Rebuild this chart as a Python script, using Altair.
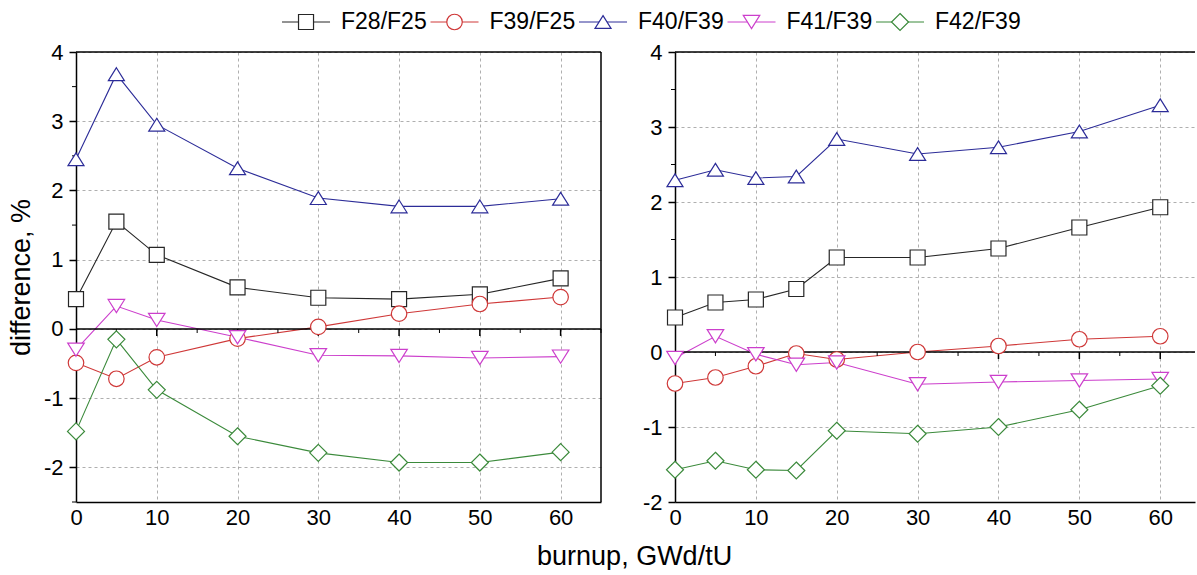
import altair as alt
import pandas as pd

FONT = "Liberation Sans"

# ---------------- data ----------------
series = ["F28/F25", "F39/F25", "F40/F39", "F41/F39", "F42/F39"]
colors = ["#262626", "#cf3838", "#2c2c98", "#cc3fcc", "#3b8a3b"]
shapes = ["square", "circle",
          "M0,-0.8L1,0.8L-1,0.8Z",
          "M0,0.8L1,-0.8L-1,-0.8Z",
          "M0,-1L1,0L0,1L-1,0Z"]
sizes = [225, 289, 361, 361, 361]

left_x = [0, 5, 10, 20, 30, 40, 50, 60]
left_f28_f25 = [0.43, 1.55, 1.07, 0.60, 0.45, 0.43, 0.50, 0.73]
left_f39_f25 = [-0.49, -0.72, -0.41, -0.14, 0.03, 0.22, 0.36, 0.46]
left_f40_f39 = [2.45, 3.68, 2.95, 2.32, 1.89, 1.77, 1.77, 1.88]
left_f41_f39 = [-0.30, 0.33, 0.13, -0.12, -0.38, -0.39, -0.42, -0.40]
left_f42_f39 = [-1.48, -0.15, -0.88, -1.55, -1.79, -1.93, -1.93, -1.78]

right_x = [0, 5, 10, 15, 20, 30, 40, 50, 60]
right_f28_f25 = [0.46, 0.66, 0.70, 0.84, 1.26, 1.26, 1.38, 1.66, 1.93]
right_f39_f25 = [-0.42, -0.34, -0.19, -0.02, -0.10, 0.00, 0.08, 0.17, 0.21]
right_f40_f39 = [2.29, 2.43, 2.32, 2.34, 2.84, 2.64, 2.73, 2.94, 3.29]
right_f41_f39 = [-0.08, 0.21, -0.03, -0.17, -0.14, -0.43, -0.40, -0.38, -0.36]
right_f42_f39 = [-1.57, -1.45, -1.57, -1.58, -1.05, -1.09, -1.00, -0.77, -0.45]

x_tick_values = [0, 10, 20, 30, 40, 50, 60]


def long_df(xs, cols):
    rows = []
    for s, vals in zip(series, cols):
        for x, v in zip(xs, vals):
            rows.append({"burnup": x, "diff": v, "series": s})
    return pd.DataFrame(rows)


left_df = long_df(left_x, [left_f28_f25, left_f39_f25, left_f40_f39, left_f41_f39, left_f42_f39])
right_df = long_df(right_x, [right_f28_f25, right_f39_f25, right_f40_f39, right_f41_f39, right_f42_f39])

color_enc = alt.Color("series:N", scale=alt.Scale(domain=series, range=colors), legend=None)
shape_enc = alt.Shape("series:N", scale=alt.Scale(domain=series, range=shapes), legend=None)
size_enc = alt.Size("series:N", scale=alt.Scale(domain=series, range=sizes), legend=None)


def panel(df, ymin, ymax, xmax, width, y_title, right_border):
    xs = alt.Scale(domain=[0, xmax], nice=False, zero=False)
    ys = alt.Scale(domain=[ymin, ymax], nice=False, zero=False)
    y_vals = list(range(int(-(-ymin // 1)), int(ymax) + 1))
    xaxis = alt.Axis(values=x_tick_values, title=None, ticks=False, labelPadding=5,
                     labelFontSize=22, labelFont=FONT, labelColor="black",
                     domainColor="black", domainWidth=1.5, labelFlush=False,
                     labelOverlap=False, grid=True, gridDash=[3, 3],
                     gridColor="#9a9a9a", gridWidth=0.8)
    yaxis_kw = dict(values=y_vals, tickSize=7, tickWidth=1.5, tickColor="black",
                    labelPadding=6, labelFontSize=22, labelFont=FONT, labelColor="black",
                    domainColor="black", domainWidth=1.5, labelFlush=False,
                    labelOverlap=False, labelExpr="'' + datum.value",
                    grid=True, gridDash=[3, 3], gridColor="#9a9a9a", gridWidth=0.8)
    if y_title:
        yaxis = alt.Axis(title=y_title, titleFontSize=27, titleFont=FONT,
                         titleFontWeight="normal", titleColor="black", titlePadding=8,
                         **yaxis_kw)
    else:
        yaxis = alt.Axis(title=None, **yaxis_kw)

    X = lambda f: alt.X(f, scale=xs, axis=xaxis)
    Y = lambda f: alt.Y(f, scale=ys, axis=yaxis)

    lines = alt.Chart(df).mark_line(strokeWidth=1.1).encode(
        x=X("burnup:Q"), y=Y("diff:Q"), color=color_enc, detail="series:N")

    frame_rows = [{"x0": 0, "x1": xmax, "y": 0},
                  {"x0": 0, "x1": xmax, "y": ymax}]
    frame = alt.Chart(pd.DataFrame(frame_rows)).mark_rule(color="black", strokeWidth=1.5).encode(
        x=X("x0:Q"), x2="x1:Q", y=Y("y:Q"))
    layers = [lines, frame]
    if right_border:
        rb = alt.Chart(pd.DataFrame([{"x": xmax, "y0": ymin, "y1": ymax}])).mark_rule(
            color="black", strokeWidth=1.5).encode(x=X("x:Q"), y=Y("y0:Q"), y2="y1:Q")
        layers.append(rb)

    # ticks on the zero line
    major = pd.DataFrame({"x": [v for v in x_tick_values if 0 < v <= xmax], "y": 0})
    minor = pd.DataFrame({"x": [v for v in range(5, int(xmax) + 1, 10)], "y": 0})
    layers.append(alt.Chart(major).mark_tick(orient="vertical", size=7, thickness=1.5,
                                             color="black", opacity=1, yOffset=3.5).encode(
        x=X("x:Q"), y=Y("y:Q")))
    layers.append(alt.Chart(minor).mark_tick(orient="vertical", size=4, thickness=1,
                                             color="black", opacity=1, yOffset=2).encode(
        x=X("x:Q"), y=Y("y:Q")))
    # minor ticks on the y axis
    ym = [v + 0.5 for v in range(int(ymin // 1), int(ymax)) if ymin <= v + 0.5 <= ymax]
    ymdf = pd.DataFrame({"x": 0, "y": ym})
    layers.append(alt.Chart(ymdf).mark_tick(orient="horizontal", size=4, thickness=1,
                                            color="black", opacity=1, xOffset=-2).encode(
        x=X("x:Q"), y=Y("y:Q")))

    pts = alt.Chart(df).mark_point(filled=False, fill="white", fillOpacity=1, opacity=1,
                                   strokeWidth=1.2).encode(
        x=X("burnup:Q"), y=Y("diff:Q"), color=color_enc, shape=shape_enc, size=size_enc)
    layers.append(pts)
    return alt.layer(*layers).properties(width=width, height=450)


left = panel(left_df, -2.5, 4, 65, 525, "difference, %", True)
right = panel(right_df, -2, 4, 64.3, 520, None, False)

# ---------------- legend ----------------
leg_df = pd.DataFrame({"series": series, "idx": list(range(len(series))), "row": 0})
lx = alt.Scale(domain=[-1.549, 5.185], nice=False, zero=False)
ly = alt.Scale(domain=[-1, 1], nice=False, zero=False)
lbase = alt.Chart(leg_df).transform_calculate(
    xl="datum.idx - 0.1616", xr="datum.idx + 0.1616", xt="datum.idx + 0.2357")
lrule = lbase.mark_rule(strokeWidth=1).encode(
    x=alt.X("xl:Q", scale=lx, axis=None), x2="xr:Q",
    y=alt.Y("row:Q", scale=ly, axis=None), color=color_enc)
lpts = lbase.mark_point(filled=False, fill="white", fillOpacity=1, opacity=1, strokeWidth=1.2).encode(
    x=alt.X("idx:Q", scale=lx, axis=None), y=alt.Y("row:Q", scale=ly, axis=None),
    color=color_enc, shape=shape_enc, size=size_enc)
ltxt = lbase.mark_text(align="left", baseline="middle", fontSize=23, font=FONT, color="black").encode(
    x=alt.X("xt:Q", scale=lx, axis=None), y=alt.Y("row:Q", scale=ly, axis=None), text="series:N")
legend = alt.layer(lrule, lpts, ltxt).properties(width=1000, height=20)

panels = alt.hconcat(left, right, spacing=40,
                     title=alt.Title("burnup, GWd/tU", orient="bottom", anchor="middle",
                                     fontSize=27, font=FONT, fontWeight="normal",
                                     color="black", offset=16, dx=33)
                     ).resolve_scale(x="independent", y="independent")

chart = alt.vconcat(legend, panels, spacing=7).resolve_scale(
    x="independent", y="independent").properties(
    padding={"left": 7, "top": 11, "right": 0, "bottom": 0},
    background="white").configure_view(stroke=None)

chart.save("out.html", embed_options={"renderer": "svg", "actions": False})
